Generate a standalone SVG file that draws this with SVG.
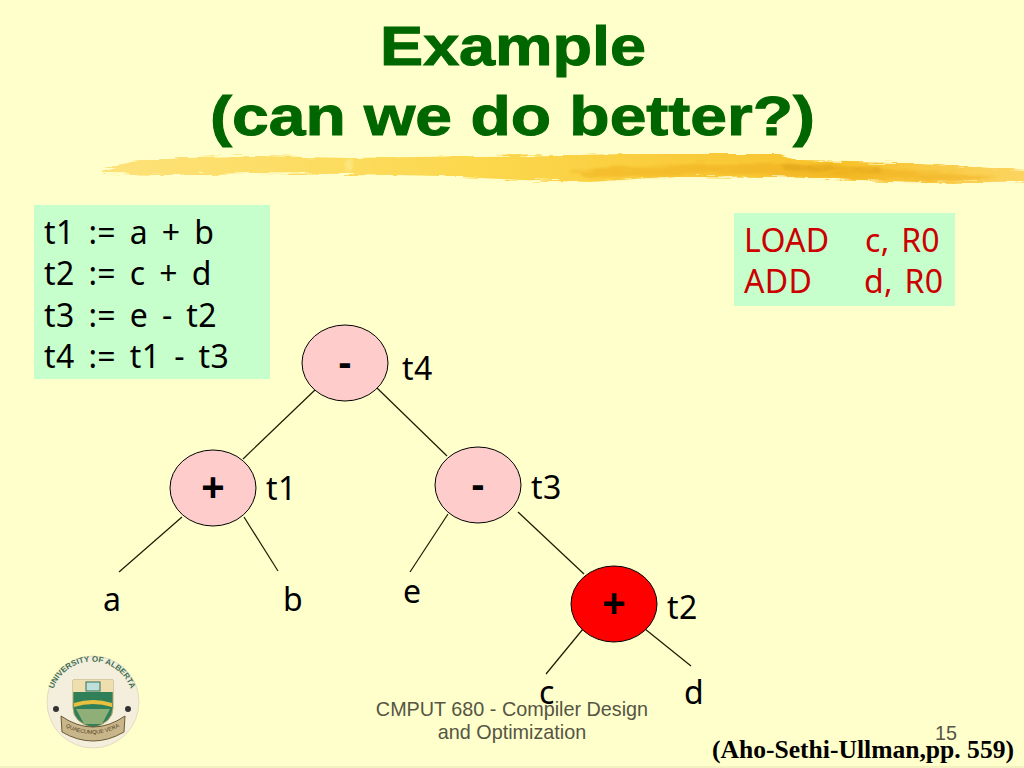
<svg xmlns="http://www.w3.org/2000/svg" width="1024" height="768" viewBox="0 0 1024 768">
<style>
.title{font:bold 56px "Liberation Sans",Arial,sans-serif;fill:#006600;stroke:#006600;stroke-width:1}
.t{font:32px "Noto Sans","Open Sans",sans-serif;fill:#000;word-spacing:5px;letter-spacing:.4px}
.r{font:32px "Noto Sans","Open Sans",sans-serif;fill:#cc0000;word-spacing:3px;letter-spacing:.3px}
.op{font:bold 40px "Liberation Sans",Arial,sans-serif;fill:#000;text-anchor:middle}
.n{stroke:#000;stroke-width:1;fill:#ffcccc}
.foot{font:19.8px "Liberation Sans",Arial,sans-serif;fill:#555544;text-anchor:middle}
.panel{fill:#c6ffcc}
line{stroke:#1a1a00;stroke-width:1.2}
</style>
<defs>
<linearGradient id="br" x1="0" x2="1" y1="0" y2="0">
<stop offset="0" stop-color="#fde27a"/><stop offset=".4" stop-color="#fcd84e"/><stop offset=".8" stop-color="#f8c22c"/><stop offset="1" stop-color="#fbd562"/>
</linearGradient>
<filter id="rough" x="-2%" y="-40%" width="104%" height="180%">
<feTurbulence type="fractalNoise" baseFrequency="0.03 0.5" numOctaves="3" seed="4"/>
<feDisplacementMap in="SourceGraphic" scale="7" xChannelSelector="R" yChannelSelector="G"/>
<feGaussianBlur stdDeviation="0.5"/>
</filter>
<filter id="soft" x="-5%" y="-60%" width="110%" height="220%">
<feTurbulence type="fractalNoise" baseFrequency="0.02 0.7" numOctaves="3" seed="9"/>
<feDisplacementMap in="SourceGraphic" scale="10" xChannelSelector="R" yChannelSelector="G"/>
<feGaussianBlur stdDeviation="1.2"/>
</filter>
<path id="arcU" d="M57 724 A41 41 0 1 1 127 724"/>
<path id="arcL" d="M66 727 Q92 741 119 727"/>
</defs>
<rect width="1024" height="768" fill="#ffffcc"/>
<rect y="766" width="1024" height="2" fill="#f2f2c0"/>
<g id="brush">
<path filter="url(#rough)" fill="url(#br)" d="M100 170 L130 162 L180 157 L260 156 L350 158 L480 156 L640 154 L780 154 L800 161 L900 163 L1030 170 L1030 181 L950 183 L860 180 L780 177 L680 176 L590 182 L520 180 L440 176 L350 174 L250 173 L170 175 L104 174Z"/>
<path filter="url(#soft)" fill="#efae1c" opacity=".5" d="M570 170 L700 164 L800 164 L900 170 L1000 176 L960 181 L820 177 L700 174 L590 179Z"/>
<path filter="url(#soft)" fill="#fff0a0" opacity=".5" d="M345 160 L354 158 L352 172 L345 170Z"/>
<path filter="url(#soft)" fill="#d89e14" opacity=".45" d="M780 165 L880 168 L880 172 L790 170Z"/>
</g>
<g id="title">
<text class="title" x="380" y="65" textLength="266" lengthAdjust="spacingAndGlyphs">Example</text>
<text class="title" x="210" y="135" textLength="605" lengthAdjust="spacingAndGlyphs">(can we do better?)</text>
</g>
<g id="code">
<rect class="panel" x="34" y="205" width="236" height="174"/>
<text class="t" x="44" y="244">t1 := a + b</text>
<text class="t" x="44" y="285">t2 := c + d</text>
<text class="t" x="44" y="327">t3 := e - t2</text>
<text class="t" x="44" y="368">t4 := t1 - t3</text>
</g>
<g id="asm">
<rect class="panel" x="734" y="213" width="221" height="93"/>
<text class="r" x="744" y="252">LOAD</text>
<text class="r" x="865" y="252">c, R0</text>
<text class="r" x="744" y="293">ADD</text>
<text class="r" x="864" y="293">d, R0</text>
</g>
<g id="connectors">
<line x1="316" y1="389" x2="243" y2="459"/>
<line x1="377" y1="388" x2="447" y2="456"/>
<line x1="182" y1="517" x2="119" y2="572"/>
<line x1="244" y1="517" x2="278" y2="571"/>
<line x1="448" y1="514" x2="410" y2="572"/>
<line x1="518" y1="512" x2="584" y2="574"/>
<line x1="583" y1="629" x2="546" y2="674"/>
<line x1="645" y1="629" x2="691" y2="666"/>
</g>
<g id="node-t4"><ellipse class="n" cx="345" cy="363" rx="43" ry="38"/><text class="op" x="345" y="376">-</text><text class="t" x="402" y="380">t4</text></g>
<g id="node-t1"><ellipse class="n" cx="213" cy="488" rx="43" ry="38"/><text class="op" x="213" y="501">+</text><text class="t" x="266" y="500">t1</text></g>
<g id="node-t3"><ellipse class="n" cx="478" cy="485" rx="43" ry="38"/><text class="op" x="478" y="498">-</text><text class="t" x="531" y="499">t3</text></g>
<g id="node-t2"><ellipse class="n" style="fill:#ff0000" cx="614" cy="604" rx="43" ry="38"/><text class="op" x="614" y="617">+</text><text class="t" x="667" y="619">t2</text></g>
<g id="node-a"><text class="t" x="103" y="611">a</text></g>
<g id="node-b"><text class="t" x="283" y="611">b</text></g>
<g id="node-e"><text class="t" x="403" y="603">e</text></g>
<g id="node-c"><text class="t" x="539" y="704">c</text></g>
<g id="node-d"><text class="t" x="684" y="704">d</text></g>
<g id="logo">
<circle cx="93" cy="702" r="46" fill="#f4efdc" stroke="#e4dcc0"/>
<text font-family="Liberation Sans,sans-serif" font-size="8" font-weight="bold" fill="#3f6f50" text-anchor="middle"><textPath href="#arcU" startOffset="50%">UNIVERSITY OF ALBERTA</textPath></text>
<path d="M73 680 H113 V708 Q113 722 93 728 Q73 722 73 708Z" fill="#2f7f58" stroke="#b9a46a"/>
<path d="M73 680 H113 V692 H73Z" fill="#f0dfae"/>
<rect x="86" y="682" width="14" height="9" fill="#bfe0d8" stroke="#2f6f60"/>
<path d="M74 703 Q93 697 112 703 V707 Q93 701 74 707Z" fill="#e8c040"/>
<path d="M76 709 H110 L102 724 H84Z" fill="#8fae78"/>
<path d="M61 716 Q93 738 125 716 L124 732 Q93 750 62 732Z" fill="#c9b58a" stroke="#6a5a38"/>
<text font-family="Liberation Sans,sans-serif" font-size="5.5" fill="#4a3a20" text-anchor="middle"><textPath href="#arcL" startOffset="50%">QUAECUMQUE VERA</textPath></text>
<circle cx="56" cy="709" r="3" fill="#333"/><circle cx="128" cy="709" r="3" fill="#333"/>
</g>
<g id="footer">
<text class="foot" x="512" y="716">CMPUT 680 - Compiler Design</text>
<text class="foot" x="512" y="739">and Optimization</text>
<text class="foot" x="946" y="740">15</text>
<text x="712" y="758" font-family="Liberation Serif,serif" font-weight="bold" font-size="25" fill="#000" textLength="302" lengthAdjust="spacingAndGlyphs">(Aho-Sethi-Ullman,pp. 559)</text>
</g>
</svg>
